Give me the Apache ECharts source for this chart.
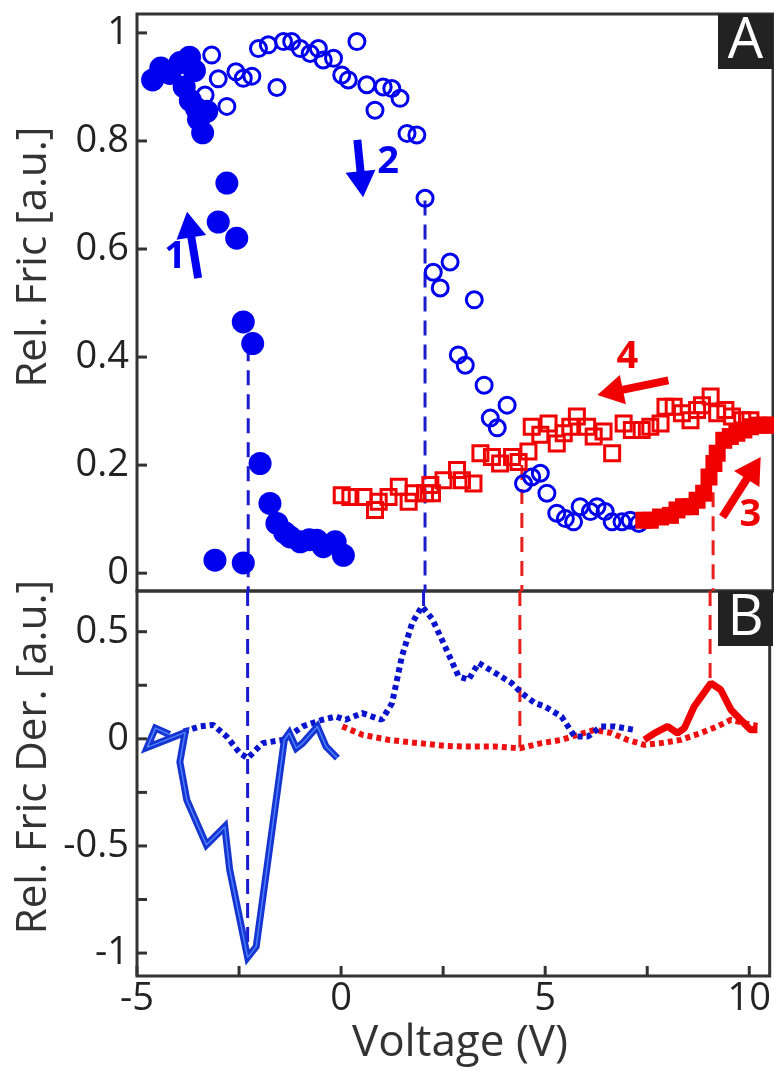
<!DOCTYPE html>
<html>
<head>
<meta charset="utf-8">
<script src="https://cdn.jsdelivr.net/npm/echarts@6/dist/echarts.min.js"></script>
<style>
html,body{margin:0;padding:0;background:#fff;}
#chart{width:774px;height:1073px;}
</style>
</head>
<body>
<div id="chart"></div>
<script>
// ---------- DATA ----------
// Panel A: relative friction vs voltage
const sweep1Filled = [ // path 1 (filled blue circles)
  [-4.62,0.913],[-4.42,0.935],[-4.20,0.925],[-3.95,0.945],[-3.72,0.955],[-3.60,0.930],
  [-3.85,0.900],[-3.70,0.875],[-3.55,0.860],[-3.30,0.855],[-3.50,0.840],[-3.40,0.815],
  [-2.81,0.722],[-3.02,0.650],[-2.57,0.620],[-2.41,0.465],[-2.18,0.425],[-2.00,0.203],
  [-1.76,0.129],[-1.59,0.092],[-1.40,0.075],[-1.27,0.067],[-1.02,0.058],[-0.80,0.062],
  [-0.62,0.061],[-0.46,0.049],[-0.17,0.058],[0.03,0.033],[-3.10,0.024],[-2.41,0.019]
];
const sweep2Open = [ // path 2 (open blue circles)
  [-3.18,0.959],[-3.02,0.915],[-2.59,0.928],[-2.41,0.916],[-2.20,0.920],[-3.34,0.885],
  [-2.81,0.864],[-1.59,0.899],[-2.04,0.971],[-1.80,0.978],[-1.43,0.984],[-1.23,0.984],
  [-1.02,0.971],[-0.78,0.962],[-0.58,0.971],[-0.46,0.950],[-0.21,0.953],[0.36,0.984],
  [-0.01,0.922],[0.15,0.913],[0.60,0.904],[1.00,0.900],[1.21,0.897],[1.41,0.879],
  [0.80,0.857],[1.58,0.814],[1.82,0.811],[2.02,0.694],[2.22,0.557],[2.39,0.528],
  [2.63,0.576],[3.22,0.506],[2.83,0.404],[3.00,0.385],[3.46,0.348],[3.61,0.287],
  [4.02,0.311],[3.78,0.269],[4.42,0.166],[4.62,0.178],[4.83,0.185],[4.99,0.148],
  [5.23,0.111],[5.44,0.101],[5.64,0.095],[5.80,0.123],[6.05,0.114],[6.21,0.123],
  [6.41,0.114],[6.58,0.095],[6.82,0.095],[7.02,0.098],[7.23,0.092]
];
const sweep4Open = [ // path 4 (open red squares)
  [-0.01,0.144],[0.20,0.141],[0.52,0.141],[0.80,0.117],[0.89,0.132],[1.13,0.141],
  [1.38,0.160],[1.62,0.132],[1.74,0.148],[2.02,0.148],[2.15,0.163],[2.47,0.172],
  [2.19,0.148],[2.80,0.191],[2.92,0.172],[3.20,0.166],[3.37,0.222],[3.65,0.215],
  [3.85,0.203],[4.14,0.215],[4.30,0.206],[4.54,0.225],[4.62,0.271],[4.83,0.256],
  [5.03,0.277],[5.23,0.240],[5.40,0.259],[5.56,0.271],[5.72,0.290],[5.97,0.271],
  [6.13,0.253],[6.37,0.262],[6.58,0.222],[6.86,0.277],[7.06,0.265],[7.30,0.265],
  [7.51,0.271],[7.76,0.277],[7.88,0.308],[8.08,0.308],[8.28,0.296],[8.49,0.283],
  [8.65,0.302],[8.77,0.311],[8.98,0.327],[9.14,0.296],[9.34,0.302],[9.50,0.290],
  [9.75,0.283],[9.95,0.283]
];
const sweep3Filled = [ // path 3 (filled red squares)
  [7.35,0.098],[7.51,0.098],[7.76,0.104],[8.00,0.107],[8.16,0.117],[8.32,0.123],
  [8.49,0.123],[8.65,0.135],[8.81,0.148],[8.94,0.178],[9.06,0.203],[9.14,0.222],
  [9.30,0.246],[9.46,0.253],[9.62,0.259],[9.79,0.265],[9.95,0.271],[10.15,0.274],
  [10.32,0.274],[10.44,0.274]
];
// Panel B: derivatives
const der1Solid = [
  [-4.20,0.02],[-4.55,0.05],[-4.75,-0.04],[-3.82,0.03],[-3.95,-0.108],[-3.78,-0.285],
  [-3.30,-0.495],[-2.85,-0.41],[-2.73,-0.61],[-2.29,-1.02],[-2.08,-0.97],[-1.39,-0.005],
  [-1.27,0.027],[-1.10,-0.044],[-0.94,-0.02],[-0.58,0.058],[-0.37,-0.036],[-0.09,-0.09]
];
const der2Dotted = [
  [-3.86,0.034],[-3.46,0.058],[-3.13,0.065],[-2.80,0.010],[-2.48,-0.067],[-2.29,-0.09],
  [-1.92,-0.02],[-1.43,-0.005],[-0.94,0.058],[-0.46,0.089],[-0.13,0.104],[0.11,0.089],
  [0.52,0.12],[0.76,0.104],[1.00,0.089],[1.25,0.167],[1.49,0.385],[1.74,0.54],
  [1.98,0.618],[2.23,0.56],[2.47,0.463],[2.88,0.291],[3.12,0.276],[3.37,0.354],
  [3.78,0.307],[4.18,0.26],[4.42,0.214],[4.75,0.167],[4.99,0.151],[5.40,0.104],
  [5.72,0.011],[6.05,0.011],[6.37,0.058],[6.70,0.058],[7.18,0.042]
];
const der4Dotted = [
  [0.03,0.058],[0.52,0.019],[1.17,-0.005],[1.90,-0.02],[2.55,-0.033],[2.96,-0.036],
  [3.78,-0.036],[4.38,-0.044],[4.91,-0.02],[5.40,-0.005],[5.80,0.019],[6.21,0.042],
  [6.62,0.027],[7.02,-0.005],[7.43,-0.028],[7.84,-0.02],[8.32,-0.005],[8.81,0.027],
  [9.22,0.058],[9.55,0.089],[9.88,0.073],[10.2,0.06]
];
const der3Solid = [
  [7.43,-0.005],[7.68,0.027],[8.00,0.058],[8.24,0.027],[8.41,0.05],[8.65,0.151],
  [9.06,0.26],[9.30,0.229],[9.55,0.136],[9.79,0.089],[10.03,0.042],[10.20,0.042]
];
// vertical guide lines (x, top value in A, end value in B)
const guideX    = [-2.29, 2.02, 4.38, 9.04];
const guideTopA = [0.42, 0.69, 0.20, 0.15];
const guideEndB = [-1.0, 0.62, -0.04, 0.27];
const guideIsRed = [false, false, true, true];
// axes / ticks
const xRange = [-5, 10.5];
const xLabels = [-5, 0, 5, 10];
const xTicks = [-5, -2.5, 0, 2.5, 5, 7.5, 10];
const yARange = [-0.033, 1.035];
const yALabels = [0, 0.2, 0.4, 0.6, 0.8, 1];
const yATicks = [0, 0.2, 0.4, 0.6, 0.8, 1];
const yBRange = [-1.107, 0.69];
const yBLabels = [-1, -0.5, 0, 0.5];
const yBTicks = [-1, -0.75, -0.5, -0.25, 0, 0.25, 0.5];
// annotations: [label, tailX, tailY, tipX, tipY, labelX, labelY] in data units of panel A
const annotations = [
  ['1', -3.51, 0.546, -3.78, 0.669, -4.07, 0.585],
  ['2', 0.37, 0.802, 0.51, 0.696, 1.12, 0.761],
  ['4', 7.95, 0.357, 6.22, 0.330, 6.95, 0.400],
  ['3', 9.27, 0.104, 10.20, 0.215, 9.95, 0.108]
];
const annotationRed = [false, false, true, true];

// ---------- CHART ----------
const BLUE = '#0000ee';
const RED = '#f00000';
const FONT = 'Open Sans';
const chart = echarts.init(document.getElementById('chart'), null, {renderer: 'canvas'});

const gridA = {left: 137, top: 14, width: 636, height: 577, show: true, borderColor: '#333', borderWidth: 3};
const gridB = {left: 137, top: 591, width: 636, height: 385, show: true, borderColor: '#333', borderWidth: 3};

function guideSeries(panel) {
  return guideX.map((x, i) => ({
    type: 'line',
    xAxisIndex: panel, yAxisIndex: panel,
    data: panel === 0 ? [[x, guideTopA[i]], [x, yARange[0]]] : [[x, yBRange[1]], [x, guideEndB[i]]],
    symbol: 'none', silent: true, z: 1,
    lineStyle: {color: guideIsRed[i] ? '#e8201c' : '#1a1ad0', width: 3, type: [15, 9]}
  }));
}

function labelStyle(vals, margin) {
  return {show: true, customValues: vals, margin: margin, fontFamily: FONT, fontSize: 38, color: '#222'};
}
const option = {
  animation: false,
  backgroundColor: '#fff',
  grid: [gridA, gridB],
  xAxis: [
    {type: 'value', gridIndex: 0, min: xRange[0], max: xRange[1],
     axisLine: {show: false, onZero: false}, axisTick: {show: false}, axisLabel: {show: false}, splitLine: {show: false}},
    {type: 'value', gridIndex: 1, min: xRange[0], max: xRange[1],
     axisLine: {show: false, onZero: false}, splitLine: {show: false}, axisTick: {show: false},
     axisLabel: labelStyle(xLabels, 4)}
  ],
  yAxis: [
    {type: 'value', gridIndex: 0, min: yARange[0], max: yARange[1],
     axisLine: {show: false, onZero: false}, splitLine: {show: false}, axisTick: {show: false},
     axisLabel: labelStyle(yALabels, 8)},
    {type: 'value', gridIndex: 1, min: yBRange[0], max: yBRange[1],
     axisLine: {show: false, onZero: false}, splitLine: {show: false}, axisTick: {show: false},
     axisLabel: labelStyle(yBLabels, 8)}
  ],
  series: [
    ...guideSeries(0),
    ...guideSeries(1),
    {type: 'scatter', xAxisIndex: 0, yAxisIndex: 0, data: sweep1Filled, symbol: 'circle', symbolSize: 23,
     itemStyle: {color: BLUE, opacity: 1}, z: 3},
    {type: 'scatter', xAxisIndex: 0, yAxisIndex: 0, data: sweep2Open, symbol: 'circle', symbolSize: 16,
     itemStyle: {color: 'rgba(0,0,0,0)', borderColor: BLUE, borderWidth: 3, opacity: 1}, z: 3},
    {type: 'scatter', xAxisIndex: 0, yAxisIndex: 0, data: sweep4Open, symbol: 'rect', symbolSize: 15,
     itemStyle: {color: 'rgba(0,0,0,0)', borderColor: RED, borderWidth: 3, opacity: 1}, z: 3},
    {type: 'scatter', xAxisIndex: 0, yAxisIndex: 0, data: sweep3Filled, symbol: 'rect', symbolSize: 17,
     itemStyle: {color: RED, opacity: 1}, z: 3},
    {type: 'line', xAxisIndex: 1, yAxisIndex: 1, data: der4Dotted, symbol: 'none', z: 3,
     lineStyle: {color: '#ee1111', width: 6, type: [5, 4]}},
    {type: 'line', xAxisIndex: 1, yAxisIndex: 1, data: der2Dotted, symbol: 'none', z: 3,
     lineStyle: {color: '#0a14cc', width: 6, type: [5, 4]}},
    {type: 'line', xAxisIndex: 1, yAxisIndex: 1, data: der1Solid, symbol: 'none', z: 4,
     lineStyle: {color: '#1535d0', width: 7, join: 'miter'}},
    {type: 'line', xAxisIndex: 1, yAxisIndex: 1, data: der1Solid, symbol: 'none', z: 4,
     lineStyle: {color: '#4f7dff', width: 1.5}},
    {type: 'line', xAxisIndex: 1, yAxisIndex: 1, data: der3Solid, symbol: 'none', z: 4,
     lineStyle: {color: RED, width: 7}}
  ]
};
chart.setOption(option);

// ---------- TICKS, ANNOTATIONS, TITLES (placed through the axes' scales) ----------
const graphics = [];
const TICK = 10;
yATicks.forEach(v => {
  const p = chart.convertToPixel({gridIndex: 0}, [xRange[0], v]);
  graphics.push({type: 'line', shape: {x1: p[0], y1: p[1], x2: p[0] + TICK, y2: p[1]}, style: {stroke: '#333', lineWidth: 3}, z: 30});
});
yBTicks.forEach(v => {
  const p = chart.convertToPixel({gridIndex: 1}, [xRange[0], v]);
  graphics.push({type: 'line', shape: {x1: p[0], y1: p[1], x2: p[0] + TICK, y2: p[1]}, style: {stroke: '#333', lineWidth: 3}, z: 30});
});
xTicks.forEach(v => {
  const p = chart.convertToPixel({gridIndex: 1}, [v, yBRange[0]]);
  graphics.push({type: 'line', shape: {x1: p[0], y1: p[1], x2: p[0], y2: p[1] - TICK}, style: {stroke: '#333', lineWidth: 3}, z: 30});
});
annotations.forEach((a, i) => {
  const col = annotationRed[i] ? RED : BLUE;
  const tail = chart.convertToPixel({gridIndex: 0}, [a[1], a[2]]);
  const tip = chart.convertToPixel({gridIndex: 0}, [a[3], a[4]]);
  const lab = chart.convertToPixel({gridIndex: 0}, [a[5], a[6]]);
  const dx = tip[0] - tail[0], dy = tip[1] - tail[1];
  const len = Math.sqrt(dx * dx + dy * dy);
  const ux = dx / len, uy = dy / len;
  const px = -uy, py = ux;
  const L = 26, W = 15;
  const bx = tip[0] - ux * L, by = tip[1] - uy * L;
  graphics.push({type: 'polyline', shape: {points: [tail, [bx + ux * 2, by + uy * 2]]},
    style: {stroke: col, lineWidth: 8, fill: null}, z: 10});
  graphics.push({type: 'polygon', shape: {points: [tip, [bx + px * W, by + py * W], [bx - px * W, by - py * W]]},
    style: {fill: col}, z: 10});
  graphics.push({type: 'text', x: lab[0], y: lab[1], z: 10,
    style: {text: a[0], fill: col, font: 'bold 38px "Open Sans"', align: 'center', verticalAlign: 'middle'}});
});
// panel tags
[['A', 14], ['B', 591]].forEach(t => {
  graphics.push({type: 'rect', shape: {x: 718, y: t[1], width: 55, height: 55}, style: {fill: '#222'}, z: 20});
  graphics.push({type: 'text', x: 745.5, y: t[1] + 28.5, z: 21,
    style: {text: t[0], fill: '#fff', font: '56px "Open Sans"', align: 'center', verticalAlign: 'middle'}});
});
// axis titles
graphics.push({type: 'text', x: 34, y: 257, rotation: Math.PI / 2, z: 20,
  style: {text: 'Rel. Fric [a.u.]', fill: '#333', font: '42px "Open Sans"', align: 'center', verticalAlign: 'middle'}});
graphics.push({type: 'text', x: 34, y: 757, rotation: Math.PI / 2, z: 20,
  style: {text: 'Rel. Fric Der. [a.u.]', fill: '#333', font: '42px "Open Sans"', align: 'center', verticalAlign: 'middle'}});
graphics.push({type: 'text', x: 460, y: 1043, z: 20,
  style: {text: 'Voltage (V)', fill: '#333', font: '44px "Open Sans"', align: 'center', verticalAlign: 'middle'}});
chart.setOption({graphic: graphics});
</script>
</body>
</html>
